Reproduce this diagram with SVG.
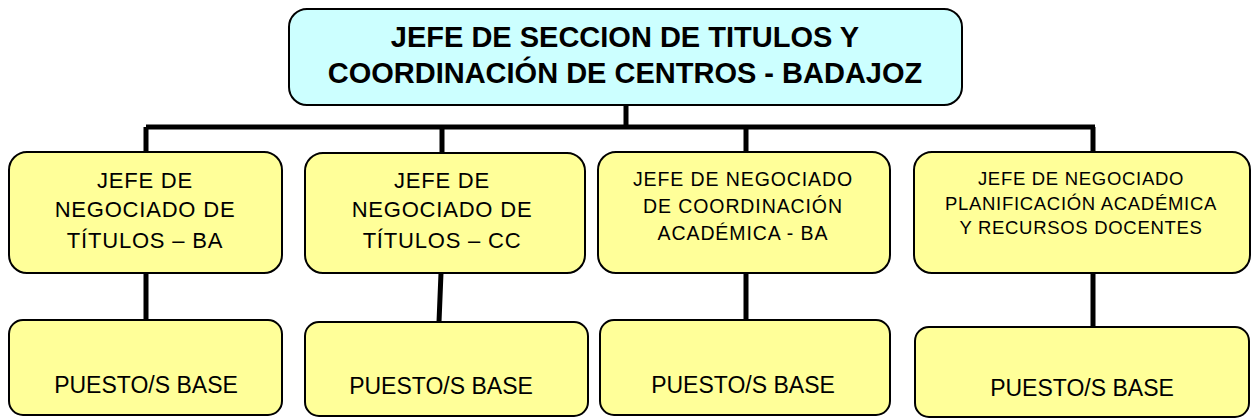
<svg xmlns="http://www.w3.org/2000/svg" width="1257" height="419" viewBox="0 0 1257 419">
<style>
.y{fill:#FFFF99;stroke:#000;stroke-width:2}
.c{fill:#CCFFFF;stroke:#000;stroke-width:2}
.t{font-family:"Liberation Sans",Arial,sans-serif;fill:#000;text-anchor:middle}
.b{font-weight:bold;font-size:29px}
.m{font-size:22px;letter-spacing:0.8px}
.s{font-size:19.5px;letter-spacing:0.9px}
.x{font-size:18.5px;letter-spacing:0.7px}
.p{font-size:23px}
.l{stroke:#000;stroke-width:5;fill:none}
</style>
<rect width="1257" height="419" fill="#fff"/>
<g id="connectors">
<path class="l" d="M626 105V127M146 127H1095M146 127V152M442 127V152M746 127V152M1093 127V152"/>
<path class="l" d="M146 273V321M441 273L439 322M746 273V321M1093 273V327"/>
</g>
<g id="top"><rect class="c" x="289" y="9" width="673" height="96" rx="18"/>
<text class="t b" x="625" y="47">JEFE DE SECCION DE TITULOS Y</text>
<text class="t b" x="625" y="83">COORDINACIÓN DE CENTROS - BADAJOZ</text></g>
<g id="n1"><rect class="y" x="9" y="152" width="273" height="121" rx="18"/>
<text class="t m" x="145" y="188">JEFE DE</text>
<text class="t m" x="145" y="217">NEGOCIADO DE</text>
<text class="t m" x="145" y="248">TÍTULOS – BA</text></g>
<g id="n2"><rect class="y" x="305" y="153" width="280" height="120" rx="18"/>
<text class="t m" x="442" y="188">JEFE DE</text>
<text class="t m" x="442" y="217">NEGOCIADO DE</text>
<text class="t m" x="442" y="248">TÍTULOS – CC</text></g>
<g id="n3"><rect class="y" x="598" y="152" width="292" height="121" rx="18"/>
<text class="t s" x="743" y="186">JEFE DE NEGOCIADO</text>
<text class="t s" x="743" y="213">DE COORDINACIÓN</text>
<text class="t s" x="743" y="240">ACADÉMICA  - BA</text></g>
<g id="n4"><rect class="y" x="914" y="152" width="336" height="121" rx="18"/>
<text class="t x" x="1081" y="185">JEFE DE NEGOCIADO</text>
<text class="t x" x="1081" y="210">PLANIFICACIÓN ACADÉMICA</text>
<text class="t x" x="1081" y="234">Y RECURSOS DOCENTES</text></g>
<g id="p1"><rect class="y" x="9" y="320" width="273" height="95" rx="14"/>
<text class="t p" x="146" y="393">PUESTO/S BASE</text></g>
<g id="p2"><rect class="y" x="305" y="322" width="283" height="94" rx="14"/>
<text class="t p" x="441" y="394">PUESTO/S BASE</text></g>
<g id="p3"><rect class="y" x="600" y="320" width="290" height="95" rx="14"/>
<text class="t p" x="743" y="393">PUESTO/S BASE</text></g>
<g id="p4"><rect class="y" x="915" y="327" width="334" height="90" rx="14"/>
<text class="t p" x="1082" y="396">PUESTO/S BASE</text></g>
</svg>
